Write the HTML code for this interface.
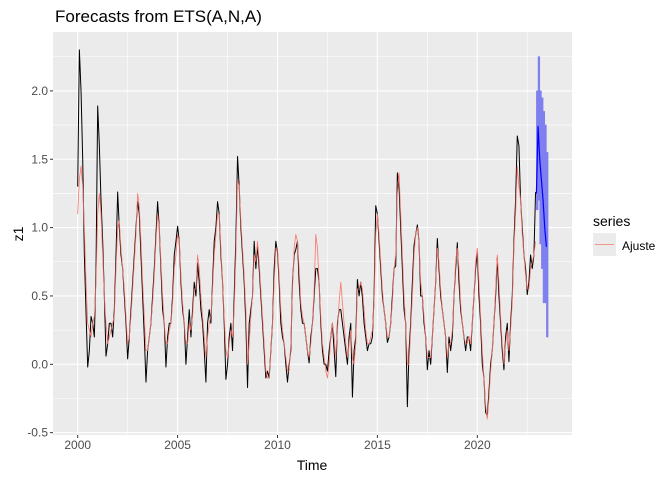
<!DOCTYPE html>
<html><head><meta charset="utf-8"><style>
body{margin:0;background:#fff;}
svg{display:block;font-family:"Liberation Sans",sans-serif;}
</style></head><body>
<svg id="chart" width="672" height="480" viewBox="0 0 672 480" xmlns="http://www.w3.org/2000/svg">
<rect x="0" y="0" width="672" height="480" fill="#fff"/>
<text x="55" y="22" font-size="17" fill="#000">Forecasts from ETS(A,N,A)</text>
<rect x="53" y="32" width="519" height="403" fill="#ebebeb"/>
<g id="grid"></g>
<g id="series"></g>
<g id="axes"></g>
<text x="312" y="470" font-size="14" text-anchor="middle" fill="#000">Time</text>
<text transform="translate(23,234) rotate(-90)" font-size="14" text-anchor="middle" fill="#000">z1</text>
<g>
<text x="593" y="226" font-size="14" fill="#000">series</text>
<g>
<rect x="593" y="233" width="23" height="23" fill="#ebebeb"/>
<line x1="595" y1="244.5" x2="614" y2="244.5" stroke="#f8766d" stroke-width="0.8"/>
<text x="622" y="250" font-size="12" fill="#000">Ajuste</text>
</g></g>
</svg>
<script>
const startYear = 2000;
const actual = [
1.3,2.3,2.0,1.5,0.8,0.38,-0.02,0.1,0.35,0.3,0.2,0.7,
1.89,1.6,1.2,0.9,0.5,0.06,0.15,0.3,0.3,0.2,0.4,0.8,
1.26,1.0,0.8,0.7,0.5,0.3,0.04,0.2,0.4,0.6,0.8,1.0,
1.19,1.1,0.8,0.5,0.2,-0.13,0.1,0.2,0.3,0.5,0.7,0.95,
1.19,1.0,0.7,0.4,0.3,-0.02,0.2,0.3,0.3,0.5,0.8,0.9,
1.01,0.9,0.6,0.4,0.3,0.0,0.2,0.4,0.2,0.4,0.6,0.5,
0.74,0.6,0.4,0.3,0.1,-0.13,0.3,0.4,0.3,0.6,0.9,1.0,
1.19,1.1,0.8,0.6,0.3,-0.11,0.0,0.2,0.3,0.1,0.5,0.92,
1.52,1.3,1.0,0.8,0.6,0.3,-0.17,0.3,0.4,0.5,0.9,0.7,
0.87,0.7,0.5,0.3,0.1,-0.1,-0.05,-0.1,0.1,0.3,0.7,0.9,
0.82,0.6,0.3,0.2,0.15,0.0,-0.13,0.0,0.1,0.6,0.8,0.84,
0.9,0.6,0.4,0.3,0.3,0.2,0.1,0.01,0.2,0.3,0.5,0.7,
0.7,0.6,0.3,0.1,0.0,0.0,-0.05,0.1,0.2,0.3,0.1,-0.09,
0.3,0.4,0.4,0.3,0.2,0.1,0.0,0.2,0.3,-0.24,0.1,0.2,
0.62,0.5,0.6,0.49,0.3,0.2,0.1,0.15,0.15,0.2,0.5,1.16,
1.1,0.9,0.7,0.5,0.4,0.3,0.16,0.2,0.3,0.5,0.7,0.72,
1.4,1.3,1.0,0.7,0.4,0.3,-0.31,0.1,0.3,0.6,0.87,0.95,
1.02,0.9,0.5,0.5,0.3,0.2,-0.04,0.1,0.0,0.2,0.4,0.6,
0.92,0.7,0.5,0.4,0.3,0.2,-0.06,0.2,0.1,0.2,0.5,0.7,
0.89,0.6,0.4,0.3,0.2,0.1,0.2,0.2,0.1,0.3,0.5,0.7,
0.82,0.5,0.3,0.0,-0.1,-0.35,-0.38,-0.2,0.0,0.1,0.3,0.5,
0.78,0.5,0.3,0.1,-0.04,0.2,0.3,0.02,0.3,0.5,0.9,1.2,
1.67,1.6,1.2,1.0,0.8,0.7,0.51,0.6,0.8,0.7,0.8,1.26];
const fitted = [
1.1,1.35,1.45,1.3,1.0,0.6,0.3,0.25,0.2,0.3,0.35,0.6,
1.1,1.25,1.1,0.8,0.5,0.3,0.15,0.2,0.25,0.3,0.35,0.7,
1.0,1.05,0.85,0.7,0.55,0.35,0.15,0.2,0.35,0.55,0.75,0.95,
1.25,1.15,0.9,0.6,0.35,0.1,0.1,0.2,0.3,0.45,0.65,0.9,
1.1,1.0,0.75,0.5,0.3,0.15,0.15,0.25,0.3,0.45,0.7,0.8,
0.95,0.9,0.65,0.45,0.3,0.15,0.15,0.3,0.25,0.35,0.55,0.55,
0.8,0.7,0.5,0.35,0.2,0.05,0.2,0.3,0.35,0.55,0.8,0.95,
1.1,1.1,0.85,0.6,0.35,0.1,0.05,0.15,0.25,0.2,0.4,0.8,
1.35,1.3,1.05,0.85,0.65,0.4,0.0,0.15,0.35,0.5,0.8,0.75,
0.9,0.75,0.55,0.35,0.15,-0.05,-0.1,-0.1,0.1,0.3,0.6,0.85,
0.85,0.65,0.4,0.25,0.15,0.05,-0.05,-0.05,0.15,0.55,0.85,0.95,
0.9,0.7,0.45,0.35,0.3,0.2,0.1,0.05,0.15,0.3,0.55,0.95,
0.85,0.6,0.35,0.15,0.05,-0.05,-0.1,0.0,0.2,0.3,0.2,0.05,
0.25,0.45,0.6,0.45,0.3,0.15,0.05,0.15,0.25,0.05,0.0,0.15,
0.55,0.55,0.6,0.55,0.4,0.25,0.15,0.15,0.2,0.25,0.45,0.95,
1.1,0.95,0.75,0.55,0.4,0.3,0.2,0.2,0.3,0.45,0.7,0.8,
1.25,1.4,1.1,0.8,0.5,0.3,0.0,0.0,0.25,0.5,0.8,0.95,
1.0,0.9,0.6,0.5,0.35,0.2,0.05,0.05,0.05,0.2,0.4,0.6,
0.85,0.75,0.55,0.4,0.3,0.2,0.05,0.15,0.15,0.25,0.5,0.75,
0.85,0.7,0.45,0.3,0.2,0.15,0.15,0.2,0.15,0.3,0.5,0.75,
0.85,0.6,0.35,0.1,-0.1,-0.3,-0.4,-0.25,-0.05,0.1,0.3,0.55,
0.8,0.6,0.35,0.15,0.0,0.15,0.25,0.1,0.25,0.45,0.85,1.1,
1.45,1.3,1.2,0.95,0.8,0.65,0.55,0.55,0.7,0.75,0.8,0.9];
const fcMean = [1.25,1.74,1.5,1.35,1.2,1.0,0.86];
const fcUpper = [2.0,2.25,2.0,1.95,1.85,1.75,1.55];
const fcLower = [1.13,1.2,0.88,0.7,0.45,0.45,0.2];
const xTicks = [2000,2005,2010,2015,2020];
const xTickLabels = ["2000","2005","2010","2015","2020"];
const yTicks = [-0.5,0.0,0.5,1.0,1.5,2.0];
const yTickLabels = ["-0.5","0.0","0.5","1.0","1.5","2.0"];

const NS = "http://www.w3.org/2000/svg";
const PL = 53, PR = 572, PT = 32, PB = 435;
function xScale(t){ return 77.7 + (t - 2000) * 19.98; }
function yScale(v){ return 364.3 - v * 136.7; }
function mk(tag, attrs, parent){ const e = document.createElementNS(NS, tag); for (const k in attrs) e.setAttribute(k, attrs[k]); parent.appendChild(e); return e; }

const grid = document.getElementById('grid');
for (let i = 0; i < yTicks.length; i++) {
  const y = yScale(yTicks[i]);
  const g = mk('line', {x1:PL, x2:PR, y1:y, y2:y, stroke:'#fff', 'stroke-width':1.1}, grid);
  
  
  if (i < yTicks.length - 1) {
    const ym = yScale((yTicks[i] + yTicks[i+1]) / 2);
    const m = mk('line', {x1:PL, x2:PR, y1:ym, y2:ym, stroke:'#fff', 'stroke-width':0.55}, grid);
    
    
  }
}
const yLast = yScale(yTicks[yTicks.length-1] + 0.25);
const mTop = mk('line', {x1:PL, x2:PR, y1:yLast, y2:yLast, stroke:'#fff', 'stroke-width':0.55}, grid);


for (let i = 0; i < xTicks.length; i++) {
  const x = xScale(xTicks[i]);
  const g = mk('line', {x1:x, x2:x, y1:PT, y2:PB, stroke:'#fff', 'stroke-width':1.1}, grid);
  
  
  const xm = xScale(xTicks[i] + 2.5);
  const m = mk('line', {x1:xm, x2:xm, y1:PT, y2:PB, stroke:'#fff', 'stroke-width':0.55}, grid);
  
  
}

const layer = document.getElementById('series');
// forecast band as a single step path
let d = '';
for (let i = 0; i < fcUpper.length; i++) {
  const t0 = 2023 - 1/24 + i/12;
  d += (i === 0 ? 'M' : 'L') + xScale(t0).toFixed(2) + ',' + yScale(fcUpper[i]).toFixed(2);
  d += 'L' + xScale(t0 + 1/12).toFixed(2) + ',' + yScale(fcUpper[i]).toFixed(2);
}
for (let i = fcLower.length - 1; i >= 0; i--) {
  const t0 = 2023 - 1/24 + i/12;
  d += 'L' + xScale(t0 + 1/12).toFixed(2) + ',' + yScale(fcLower[i]).toFixed(2);
  d += 'L' + xScale(t0).toFixed(2) + ',' + yScale(fcLower[i]).toFixed(2);
}
d += 'Z';
const band = mk('path', {d:d, fill:'#7f7fef', stroke:'#7f7fef', 'stroke-width':0.6}, layer);



function lineOf(arr, t0, color, w, name){
  const pts = arr.map((v,i)=> xScale(t0 + i/12).toFixed(2)+','+yScale(v).toFixed(2)).join(' ');
  const p = mk('polyline', {points:pts, fill:'none', stroke:color, 'stroke-width':w, 'stroke-linejoin':'round'}, layer);
  
  
}
lineOf(actual, startYear, '#000', 1.0, 'observed-series-line');
lineOf(fitted, startYear, '#f8766d', 0.8, 'fitted-series-line');
lineOf(fcMean, 2023 - 1/24, '#0000ff', 1.2, 'forecast-mean-line');

const axes = document.getElementById('axes');
for (let i = 0; i < yTicks.length; i++) {
  const y = yScale(yTicks[i]);
  const t = mk('line', {x1:PL-3, x2:PL, y1:y, y2:y, stroke:'#333', 'stroke-width':1}, axes);
  
  
  const l = mk('text', {x:PL-5, y:y+4, 'font-size':12, 'text-anchor':'end', fill:'#4d4d4d'}, axes);
  l.textContent = yTickLabels[i];
  
  
}
for (let i = 0; i < xTicks.length; i++) {
  const x = xScale(xTicks[i]);
  const t = mk('line', {x1:x, x2:x, y1:PB, y2:PB+3, stroke:'#333', 'stroke-width':1}, axes);
  
  
  const l = mk('text', {x:x, y:PB+14, 'font-size':12, 'text-anchor':'middle', fill:'#4d4d4d'}, axes);
  l.textContent = xTickLabels[i];
  
  
}
</script>
</body></html>
